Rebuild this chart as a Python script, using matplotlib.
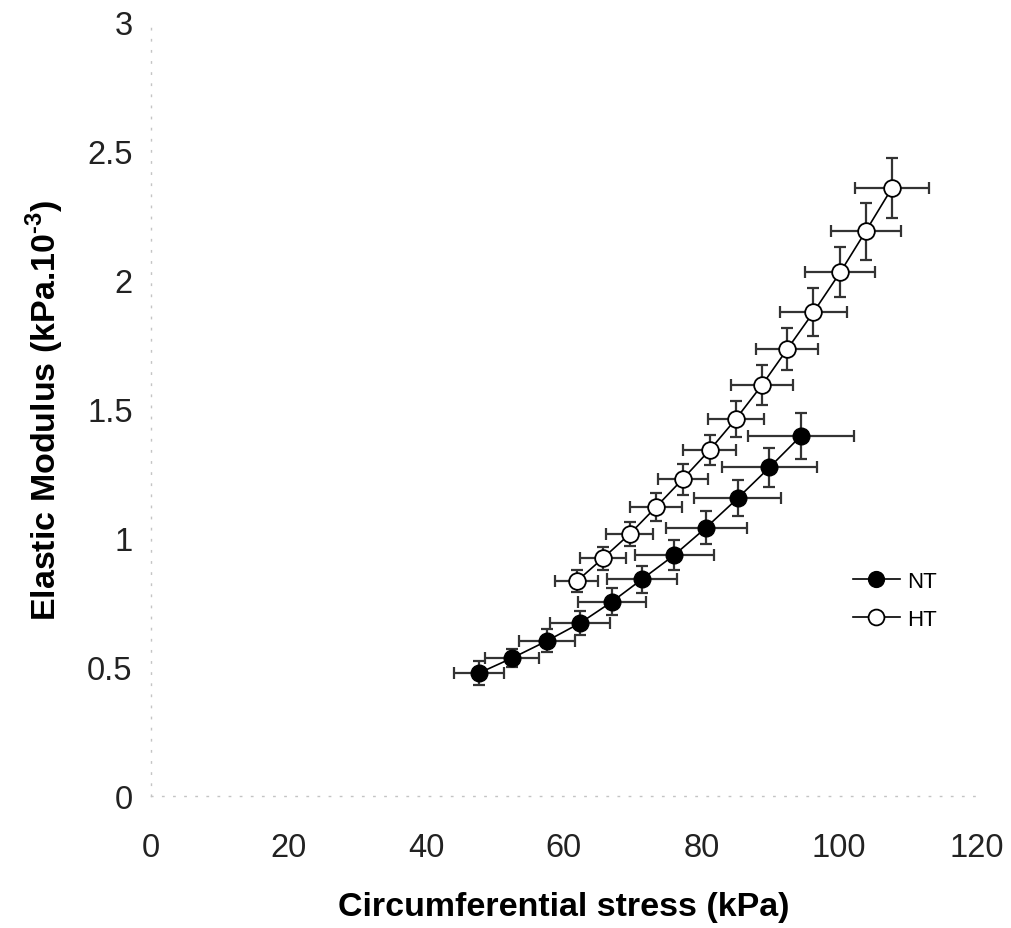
import numpy as np
import matplotlib
matplotlib.use("Agg")
import matplotlib.pyplot as plt

plt.rcParams["font.family"] = ["Liberation Sans", "DejaVu Sans"]
plt.rcParams["mathtext.fontset"] = "custom"
plt.rcParams["mathtext.rm"] = "Liberation Sans:bold"
plt.rcParams["mathtext.bf"] = "Liberation Sans:bold"

# NT group (filled circles)
nt_x = [47.7, 52.5, 57.6, 62.4, 67.0, 71.4, 76.1, 80.7, 85.3, 89.9, 94.5]
nt_y = [0.477, 0.535, 0.602, 0.671, 0.753, 0.841, 0.935, 1.041, 1.155, 1.274, 1.397]
nt_xerr = [3.6, 3.9, 4.1, 4.4, 4.9, 5.1, 5.7, 5.9, 6.3, 6.9, 7.7]
nt_yerr = [0.045, 0.035, 0.044, 0.045, 0.052, 0.052, 0.057, 0.063, 0.07, 0.074, 0.09]

# HT group (open circles)
ht_x = [61.9, 65.7, 69.6, 73.4, 77.3, 81.2, 85.0, 88.8, 92.5, 96.3, 100.2, 103.9, 107.7]
ht_y = [0.833, 0.922, 1.016, 1.120, 1.229, 1.341, 1.461, 1.593, 1.733, 1.876, 2.031, 2.190, 2.357]
ht_xerr = [3.1, 3.3, 3.4, 3.8, 3.6, 3.9, 4.1, 4.5, 4.5, 4.8, 5.1, 5.1, 5.4]
ht_yerr = [0.042, 0.045, 0.048, 0.054, 0.06, 0.058, 0.07, 0.078, 0.082, 0.093, 0.098, 0.11, 0.116]

xticks = [0, 20, 40, 60, 80, 100, 120]
yticks = [0, 0.5, 1, 1.5, 2, 2.5, 3]
ytick_labels = ["0", "0.5", "1", "1.5", "2", "2.5", "3"]

fig = plt.figure(figsize=(10.12, 9.29), dpi=100)
ax = fig.add_axes([0.149, 0.142, 0.816, 0.833])

eb_kw = dict(ecolor="#333333", elinewidth=1.6, capsize=4, capthick=1.6, zorder=2)
ax.errorbar(nt_x, nt_y, xerr=nt_xerr, yerr=nt_yerr, fmt="none", **eb_kw)
ax.errorbar(ht_x, ht_y, xerr=ht_xerr, yerr=ht_yerr, fmt="none", **eb_kw)

ax.plot(nt_x, nt_y, "-o", color="black", lw=1.2, ms=12, mfc="black",
        mec="black", zorder=3, label="NT")
ax.plot(ht_x, ht_y, "-o", color="black", lw=1.2, ms=12, mfc="white",
        mec="black", mew=1.3, zorder=3, label="HT")

ax.set_xlim(0, 120)
ax.set_ylim(0, 3)
ax.set_xticks(xticks)
ax.set_yticks(yticks)
ax.set_yticklabels(ytick_labels)
ax.tick_params(length=0, labelsize=23.5, colors="#222222")
ax.tick_params(axis="y", pad=13)
ax.tick_params(axis="x", pad=26)

for side in ["top", "right"]:
    ax.spines[side].set_visible(False)
for side in ["left", "bottom"]:
    ax.spines[side].set_color("#c4c4c4")
    ax.spines[side].set_linestyle((0, (1, 7)))
    ax.spines[side].set_linewidth(1.0)

ax.set_xlabel("Circumferential stress (kPa)", fontsize=24.5, fontweight="bold", labelpad=20)
ax.set_ylabel(r"Elastic Modulus (kPa.10$^{\text{-3}}$)", fontsize=24.5,
              fontweight="bold", labelpad=15)

leg = ax.legend(loc="center left", bbox_to_anchor=(0.826, 0.253), fontsize=16,
                frameon=False, handlelength=2.1, handletextpad=0.35, labelspacing=0.75,
                markerscale=0.95)

fig.savefig("out.png", dpi=100)
